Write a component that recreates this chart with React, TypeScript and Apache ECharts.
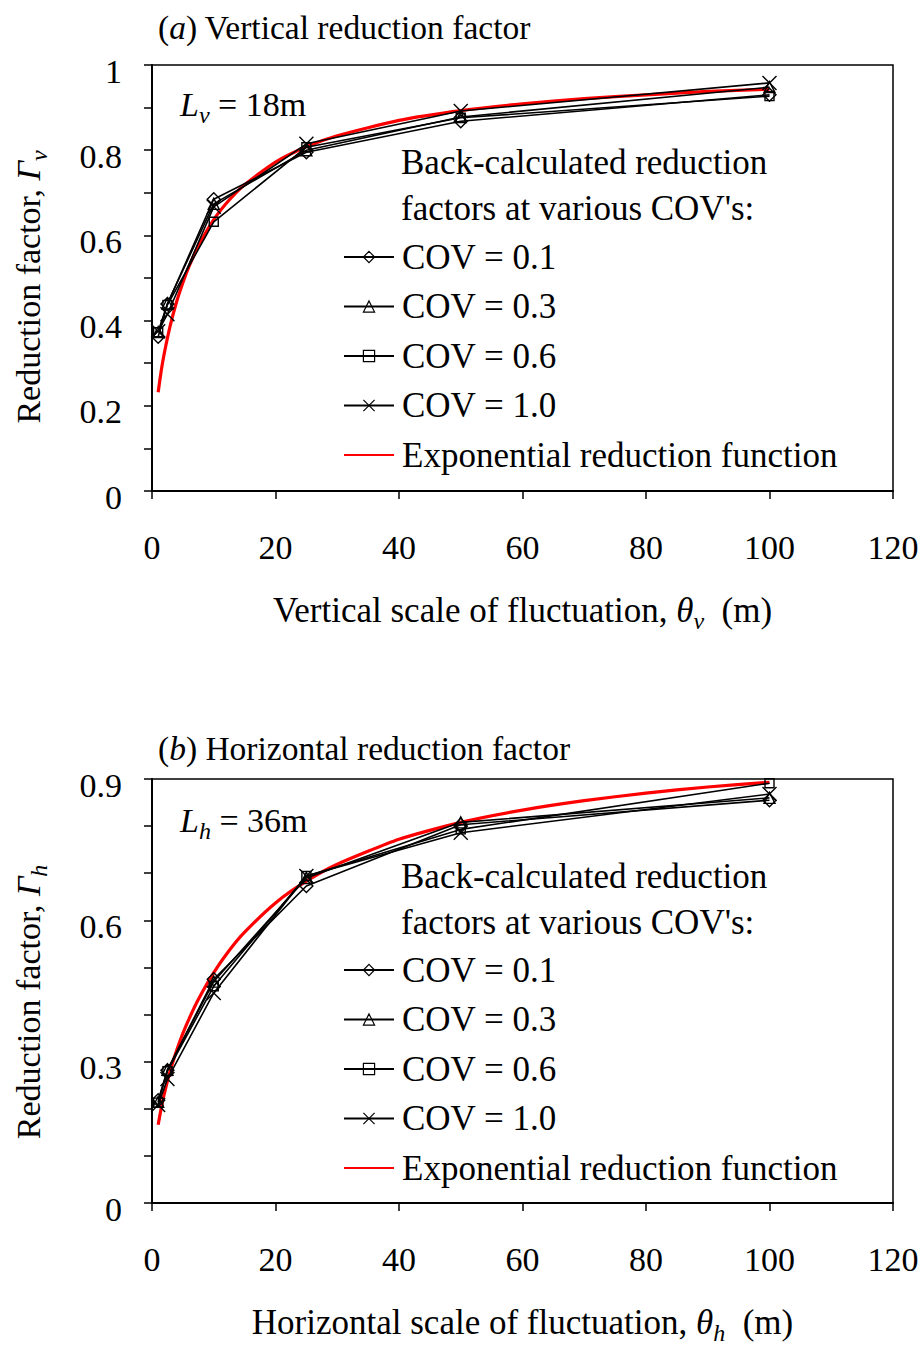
import React, { useEffect, useRef } from "react";
import * as echarts from "echarts";

const F = '"Liberation Serif", "Times New Roman", serif';

// Back-calculated reduction factors (x = scale of fluctuation, m)
const THETA = [1, 2.5, 10, 25, 50, 100];
const SERIES_NAMES = ["COV = 0.1", "COV = 0.3", "COV = 0.6", "COV = 1.0"];
const EXP_NAME = "Exponential reduction function";

// (a) vertical, Lv = 18 m
const V_COV01 = [0.362, 0.439, 0.685, 0.795, 0.868, 0.930];
const V_COV03 = [0.373, 0.440, 0.674, 0.800, 0.878, 0.948];
const V_COV06 = [0.373, 0.437, 0.632, 0.807, 0.876, 0.927];
const V_COV10 = [0.375, 0.415, 0.667, 0.815, 0.892, 0.958];

// (b) horizontal, Lh = 36 m
const H_COV01 = [0.218, 0.282, 0.475, 0.673, 0.803, 0.855];
const H_COV03 = [0.215, 0.283, 0.470, 0.690, 0.808, 0.860];
const H_COV06 = [0.213, 0.280, 0.460, 0.694, 0.793, 0.891];
const H_COV10 = [0.208, 0.263, 0.446, 0.694, 0.786, 0.868];

// Exponential reduction function curves
const EXP_THETA = [1, 1.5, 2, 3, 4, 5, 6, 7.5, 10, 12.5, 15, 20, 25, 30, 40, 50, 60, 70, 80, 90, 100];
const V_EXP = [0.232, 0.283, 0.324, 0.391, 0.445, 0.489, 0.527, 0.575, 0.637, 0.683, 0.719, 0.772, 0.808, 0.834, 0.870, 0.893, 0.909, 0.921, 0.930, 0.938, 0.943];
const H_EXP = [0.166, 0.202, 0.232, 0.283, 0.324, 0.360, 0.391, 0.432, 0.489, 0.536, 0.575, 0.637, 0.683, 0.719, 0.772, 0.808, 0.834, 0.854, 0.870, 0.883, 0.893];

const X_TICKS = { min: 0, max: 120, interval: 20 };
const V_Y = { min: 0, max: 1, interval: 0.2, minorSplit: 2 };
const H_Y = { min: 0, max: 0.9, interval: 0.3, minorSplit: 3 };

const SYMBOLS = [
  { symbol: "diamond", size: 13 },
  { symbol: "triangle", size: 11 },
  { symbol: "rect", size: 9 },
  { symbol: "path://M0,0L10,10M0,10L10,0", size: 14 },
];

const zip = (xs: number[], ys: number[]) => xs.map((x, i) => [x, ys[i]]);

const FS = 35;
const richBase = {
  n: { fontFamily: F, fontSize: FS, color: "#000", lineHeight: 46 },
  i: { fontFamily: F, fontSize: FS, color: "#000", fontStyle: "italic", lineHeight: 46 },
  s: { fontFamily: F, fontSize: 24, color: "#000", fontStyle: "italic", lineHeight: 24, verticalAlign: "bottom" },
};
const richLabel = {
  n: { ...richBase.n, fontSize: 34 },
  i: { ...richBase.i, fontSize: 34 },
  s: richBase.s,
};

function buildCovSeries(idx: number, data: number[][], gi: number) {
  const s = SYMBOLS[idx];
  return {
    type: "line",
    name: SERIES_NAMES[idx],
    xAxisIndex: gi,
    yAxisIndex: gi,
    data,
    symbol: s.symbol,
    symbolSize: s.size,
    showSymbol: true,
    lineStyle: { color: "#000", width: 1.6 },
    itemStyle: { color: "transparent", borderColor: "#000", borderWidth: 1.4 },
    z: 3,
    silent: true,
  };
}

function buildExpSeries(data: number[][], gi: number) {
  return {
    type: "line",
    name: EXP_NAME,
    xAxisIndex: gi,
    yAxisIndex: gi,
    data,
    symbol: "none",
    smooth: 0.2,
    lineStyle: { color: "#ff0000", width: 3.2 },
    itemStyle: { color: "#ff0000" },
    z: 2,
    silent: true,
  };
}

function xAxis(gi: number, nameMain: string, sub: string) {
  return {
    type: "value",
    gridIndex: gi,
    min: X_TICKS.min,
    max: X_TICKS.max,
    interval: X_TICKS.interval,
    name: `{n|${nameMain}}{i|θ}{s|${sub}}{n|  (m)}`,
    nameLocation: "middle",
    nameGap: 96,
    nameTextStyle: { rich: richBase },
    axisLine: { show: true, onZero: false, lineStyle: { color: "#000", width: 2 } },
    axisTick: { show: true, length: 8, lineStyle: { color: "#000", width: 1.5 } },
    axisLabel: { margin: 39, fontFamily: F, fontSize: 34, color: "#000" },
    splitLine: { show: false },
  };
}

function yAxis(gi: number, cfg: any) {
  return {
    type: "value",
    gridIndex: gi,
    min: cfg.min,
    max: cfg.max,
    interval: cfg.interval,
    axisLine: { show: true, onZero: false, lineStyle: { color: "#000", width: 2 } },
    axisTick: { show: true, length: 8, lineStyle: { color: "#000", width: 1.5 } },
    minorTick: { show: true, splitNumber: cfg.minorSplit, length: 8, lineStyle: { color: "#000", width: 1.5 } },
    axisLabel: { margin: 30, fontFamily: F, fontSize: 34, color: "#000", verticalAlign: "top", lineHeight: 12 },
    splitLine: { show: false },
    minorSplitLine: { show: false },
  };
}

function legend(top: number) {
  return {
    left: 343,
    top,
    padding: 0,
    orient: "vertical",
    itemWidth: 50,
    itemHeight: 14,
    itemGap: 13.5,
    selectedMode: false,
    textStyle: { fontFamily: F, fontSize: FS, color: "#000", lineHeight: 36, padding: [0, 0, 0, 3] },
    data: [
      ...SERIES_NAMES.map((n) => ({ name: n, itemStyle: { color: "transparent", borderColor: "#000", borderWidth: 1.2 } })),
      { name: EXP_NAME, itemStyle: { color: "transparent", borderColor: "transparent", borderWidth: 0 } },
    ],
  };
}

function textEl(x: number, y: number, text: string, rich: any) {
  return {
    type: "text",
    x,
    y,
    silent: true,
    style: { text, rich, fontFamily: F, fontSize: FS, fill: "#000", verticalAlign: "middle", align: "left" },
  };
}

function yNameEl(y: number, sub: string) {
  return {
    type: "text",
    x: 28,
    y,
    rotation: Math.PI / 2,
    silent: true,
    style: {
      text: `{n|Reduction factor, }{i|Γ}{s|${sub}}`,
      rich: richLabel,
      fontFamily: F,
      fontSize: 34,
      fill: "#000",
      align: "center",
      verticalAlign: "middle",
    },
  };
}

const titleRich = {
  p: { fontFamily: F, fontSize: 33.5, color: "#000" },
  i: { fontFamily: F, fontSize: 33.5, color: "#000", fontStyle: "italic" },
};

function backCalcText(y: number) {
  return {
    type: "text", x: 401, y, silent: true,
    style: { text: "Back-calculated reduction\nfactors at various COV's:", fontFamily: F, fontSize: FS, lineHeight: 46, fill: "#000", verticalAlign: "top" },
  };
}

export default function App() {
  const ref = useRef<HTMLDivElement>(null);
  useEffect(() => {
    document.body.style.margin = "0";
    const chart = echarts.init(ref.current!, null, { renderer: "svg" });
    const option: any = {
      animation: false,
      backgroundColor: "#fff",
      grid: [
        { left: 152, right: 29, top: 65, height: 426, show: true, borderColor: "#000", borderWidth: 1.5, backgroundColor: "transparent" },
        { left: 152, right: 29, top: 779, height: 428, show: true, borderColor: "#000", borderWidth: 1.5, backgroundColor: "transparent" },
      ],
      xAxis: [
        xAxis(0, "Vertical scale of fluctuation, ", "v"),
        xAxis(1, "Horizontal scale of fluctuation, ", "h"),
      ],
      yAxis: [yAxis(0, V_Y), yAxis(1, H_Y)],
      legend: [legend(239), legend(952)],
      series: [
        buildCovSeries(0, zip(THETA, V_COV01), 0),
        buildCovSeries(1, zip(THETA, V_COV03), 0),
        buildCovSeries(2, zip(THETA, V_COV06), 0),
        buildCovSeries(3, zip(THETA, V_COV10), 0),
        buildExpSeries(zip(EXP_THETA, V_EXP), 0),
        buildCovSeries(0, zip(THETA, H_COV01), 1),
        buildCovSeries(1, zip(THETA, H_COV03), 1),
        buildCovSeries(2, zip(THETA, H_COV06), 1),
        buildCovSeries(3, zip(THETA, H_COV10), 1),
        buildExpSeries(zip(EXP_THETA, H_EXP), 1),
      ],
      graphic: [
        textEl(158, 27, "{p|(}{i|a}{p|) Vertical reduction factor}", titleRich),
        textEl(158, 748, "{p|(}{i|b}{p|) Horizontal reduction factor}", titleRich),
        textEl(180, 104, "{i|L}{s|v}{n| = 18m}", richLabel),
        textEl(180, 820, "{i|L}{s|h}{n| = 36m}", richLabel),
        yNameEl(287, "v"),
        yNameEl(1002, "h"),
        backCalcText(139),
        backCalcText(853),
      ],
    };
    chart.setOption(option);
    return () => chart.dispose();
  }, []);
  return <div ref={ref} style={{ width: 922, height: 1346, background: "#fff" }} />;
}
